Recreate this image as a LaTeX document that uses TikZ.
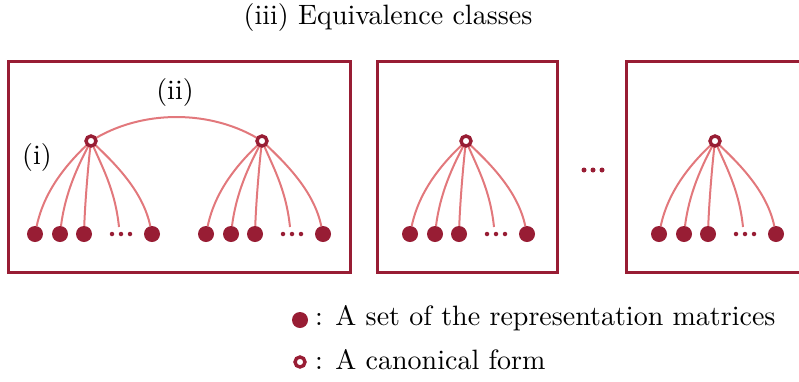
\documentclass[tikz,border=0pt]{standalone}
\usepackage{graphicx}
\usetikzlibrary{backgrounds}
\definecolor{dark}{RGB}{152,29,52}
\definecolor{light}{RGB}{226,120,124}
\newcommand{\bigtxt}[1]{\scalebox{2.8}{\fontsize{10}{12}\selectfont #1}}
\tikzset{
  canon/.style={circle, draw=dark, fill=white, line width=3.4pt, inner sep=0pt, minimum size=10pt},
  leaf/.style={circle, fill=dark, inner sep=0pt, minimum size=16pt},
  tiny/.style={circle, fill=dark, inner sep=0pt, minimum size=4.5pt},
  mid/.style={circle, fill=dark, inner sep=0pt, minimum size=5pt},
  edge/.style={draw=light, line width=2pt},
  frame/.style={draw=dark, line width=3pt},
  lbl/.style={inner sep=0pt}
}
\begin{document}
\begin{tikzpicture}[x=1pt,y=-1pt]
\useasboundingbox (0,0) rectangle (799,381);
\begin{scope}
\clip (0,0) rectangle (799,381);
\draw[frame] (8,61) rectangle (350,272);
\draw[frame] (377,61) rectangle (557,272);
\draw[frame] (626,61) rectangle (812,272);
\end{scope}
\node[lbl] (title) at (388,17) {\bigtxt{(iii) Equivalence classes}};
\node[lbl] (lii) at (175,92) {\bigtxt{(ii)}};
\node[lbl] (li) at (37,157) {\bigtxt{(i)}};
\foreach \g/\cx in {A/91,B/262,C/466,D/715} {
  \node[canon] (\g c) at (\cx,141) {};
  \node[leaf] (\g 1) at (\cx-56,234) {};
  \node[leaf] (\g 2) at (\cx-31,234) {};
  \node[leaf] (\g 3) at (\cx-7,234) {};
  \coordinate (\g 4) at (\cx+28,227);
  \node[leaf] (\g 5) at (\cx+61,234) {};
  \node[tiny] (\g d1) at (\cx+21,234) {};
  \node[tiny] (\g d2) at (\cx+30,234) {};
  \node[tiny] (\g d3) at (\cx+39,234) {};
  \begin{pgfonlayer}{background}
  \draw[edge] (\g c.center) .. controls +(-26,24) and +(9,-42) .. (\g 1);
  \draw[edge] (\g c.center) .. controls +(-14,26) and +(5,-40) .. (\g 2);
  \draw[edge] (\g c.center) .. controls +(-3,25) and +(1,-30) .. (\g 3);
  \draw[edge] (\g c.center) .. controls +(11,26) and +(-4,-38) .. (\g 4);
  \draw[edge] (\g c.center) .. controls +(26,24) and +(-9,-42) .. (\g 5);
  \end{pgfonlayer}
}
\begin{pgfonlayer}{background}
\draw[edge] (Ac.center) .. controls +(50,-32) and +(-50,-32) .. (Bc.center);
\end{pgfonlayer}
\node[mid] (m1) at (584,170) {};
\node[mid] (m2) at (593,170) {};
\node[mid] (m3) at (602,170) {};
\node[leaf] (k1) at (300,320) {};
\node[canon] (k2) at (300,362) {};
\node[lbl, anchor=west] (t1) at (315,318) {\bigtxt{: A set of the representation matrices}};
\node[lbl, anchor=west] (t2) at (315,360) {\bigtxt{: A canonical form}};
\end{tikzpicture}
\end{document}
